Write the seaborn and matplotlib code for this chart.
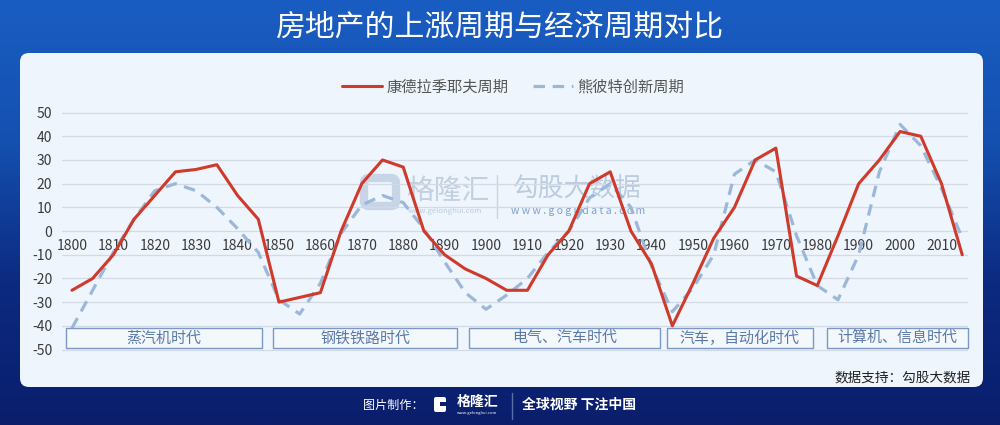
import numpy as np
import pandas as pd
import matplotlib
matplotlib.use("Agg")
import matplotlib.pyplot as plt
import seaborn as sns
from matplotlib.patches import FancyBboxPatch, Rectangle
from matplotlib.lines import Line2D
from matplotlib.colors import LinearSegmentedColormap

# ---------------- data ----------------
years = [1800, 1805, 1810, 1815, 1820, 1825, 1830, 1835, 1840, 1845,
         1850, 1855, 1860, 1865, 1870, 1875, 1880, 1885, 1890, 1895,
         1900, 1905, 1910, 1915, 1920, 1925, 1930, 1935, 1940, 1945,
         1950, 1955, 1960, 1965, 1970, 1975, 1980, 1985, 1990, 1995,
         2000, 2005, 2010, 2015]
kondratiev = [-25, -20, -10, 5, 15, 25, 26, 28, 15, 5,
              -30, -28, -26, 0, 20, 30, 27, 0, -10, -16,
              -20, -25, -25, -10, 0, 20, 25, 0, -14, -40,
              -22, -3, 10, 30, 35, -19, -23, -2, 20, 30,
              42, 40, 20, -10]
schumpeter = [-41, -25, -9, 5, 17, 20, 17, 10, 1, -9,
              -29, -35, -22, -1, 11, 15, 12, 1, -13, -26,
              -33, -27, -20, -9, 0, 14, 20, 10, -15, -34,
              -24, -10, 24, 30, 25, -2, -23, -29, -10, 25,
              45, 36, 18, -3]
series_names = ["康德拉季耶夫周期", "熊彼特创新周期"]
xtick_years = [1800, 1810, 1820, 1830, 1840, 1850, 1860, 1870, 1880, 1890, 1900,
               1910, 1920, 1930, 1940, 1950, 1960, 1970, 1980, 1990, 2000, 2010]
yticks = [-50, -40, -30, -20, -10, 0, 10, 20, 30, 40, 50]
era_names = ["蒸汽机时代", "钢铁铁路时代", "电气、汽车时代", "汽车，自动化时代", "计算机、信息时代"]
era_start = [1798.5, 1848.6, 1896.0, 1943.6, 1982.3]
era_end = [1846.0, 1893.0, 1942.0, 1979.0, 2016.3]

title = "房地产的上涨周期与经济周期对比"

# ---------------- style ----------------
sns.set_style("white")
plt.rcParams['font.family'] = ['Noto Sans CJK SC', 'DejaVu Sans']
plt.rcParams['axes.unicode_minus'] = False

RED = "#CF3A2B"
BLUE = "#9CB8D9"

fig = plt.figure(figsize=(10, 4.25), dpi=100)

# background axes in pixel coordinates
bg = fig.add_axes([0, 0, 1, 1], zorder=0)
bg.set_xlim(0, 1000)
bg.set_ylim(425, 0)
bg.axis('off')
cmap = LinearSegmentedColormap.from_list("bgc", ["#1A5DC2", "#1450B0", "#0C2A80", "#0A1E6C"])
grad = np.linspace(0, 1, 256).reshape(-1, 1)
bg.imshow(grad, cmap=cmap, extent=[0, 1000, 425, 0], aspect='auto')
panel = FancyBboxPatch((20, 53), 963, 334, boxstyle="round,pad=0,rounding_size=9",
                       facecolor="#EEF5FC", edgecolor="none")
bg.add_patch(panel)
bg.text(499, 28, title, color="white", fontsize=21.5, ha="center", va="center", fontweight="medium")

# watermark
bg.add_patch(FancyBboxPatch((364, 178), 32, 28, boxstyle="round,pad=0,rounding_size=5",
                            facecolor="none", edgecolor="#BFCEE2", lw=6, alpha=0.8))
bg.text(406, 191, "格隆汇", color="#BCCBDF", fontsize=20, ha="left", va="center", alpha=0.9)
bg.text(445, 211, "www.gelonghui.com", color="#BCCBDF", fontsize=5.5, ha="center", va="center")
bg.plot([497, 497], [175, 218], color="#C8D5E6", lw=1)
bg.text(513, 190, "勾股大数据", color="#B6C7DD", fontsize=18.5, ha="left", va="center", alpha=0.9)
bg.text(578, 211, "w w w . g o g u d a t a . c o m", color="#7E9FCF", fontsize=7.5,
        ha="center", va="center")

# footer
bg.text(393, 405, "图片制作：", color="white", fontsize=8.7, ha="center", va="center")
bg.add_patch(FancyBboxPatch((434, 397), 12, 15, boxstyle="round,pad=0,rounding_size=2",
                            facecolor="white", edgecolor="none"))
bg.add_patch(Rectangle((440, 402), 6, 4, facecolor="#0A1E6C", edgecolor="none"))
bg.text(457, 402, "格隆汇", color="white", fontsize=10, ha="left", va="center", fontweight="bold")
bg.text(477, 413, "www.gelonghui.com", color="white", fontsize=3, ha="center", va="center")
bg.plot([512, 512], [393, 419], color="#5A6FA8", lw=1)
bg.text(522, 405, "全球视野 下注中国", color="white", fontsize=10, ha="left", va="center",
        fontweight="bold")
bg.text(971, 377, "数据支持：勾股大数据", color="#222222", fontsize=9.8, ha="right", va="center")

# ---------------- main chart ----------------
ax = fig.add_axes([0.062, 0.172, 0.906, 0.5687], zorder=2)
ax.patch.set_alpha(0)

df = pd.DataFrame({"year": years, series_names[0]: kondratiev, series_names[1]: schumpeter})
sns.lineplot(data=df, x="year", y=series_names[1], ax=ax, color=BLUE, lw=2.3,
             linestyle=(0, (3.6, 2.4)), zorder=3)
sns.lineplot(data=df, x="year", y=series_names[0], ax=ax, color=RED, lw=2.2, zorder=4)

ax.set_xlim(1797.6, 2016.4)
ax.set_ylim(-51, 51)
ax.set_xlabel("")
ax.set_ylabel("")
ax.set_yticks(yticks)
ax.set_yticklabels([str(v) for v in yticks], fontsize=10, color="#3A3A3A")
ax.yaxis.grid(True, color="#D3DAE3", lw=0.9, zorder=0)
ax.xaxis.grid(False)
ax.set_axisbelow(True)
for s in ["top", "right", "left"]:
    ax.spines[s].set_visible(False)
ax.spines["bottom"].set_position(("data", 0))
ax.spines["bottom"].set_visible(False)
ax.set_xticks(xtick_years)
ax.set_xticklabels([str(v) for v in xtick_years], fontsize=10, color="#3A3A3A")
ax.tick_params(axis="x", length=0, pad=6)
ax.tick_params(axis="y", length=0, pad=7)

# era boxes
for name, s, e in zip(era_names, era_start, era_end):
    ax.add_patch(Rectangle((s, -49.4), e - s, 8.5, facecolor="#F3F8FD",
                           edgecolor="#7C98C4", lw=1.0, zorder=5, clip_on=False))
    ax.text((s + e) / 2, -45.2, name, ha="center", va="center", fontsize=10.8,
            color="#5A78A8", zorder=6)

handles = [Line2D([], [], color=RED, lw=2.2),
           Line2D([], [], color=BLUE, lw=2.3, linestyle=(0, (3.6, 2.4)))]
fig.legend(handles, series_names, loc="center", bbox_to_anchor=(0.513, 0.795), ncol=2,
           frameon=False, fontsize=11, handlelength=2.6, handletextpad=0.3,
           columnspacing=1.6, labelcolor="#555555")

fig.savefig("out.png", dpi=100)
